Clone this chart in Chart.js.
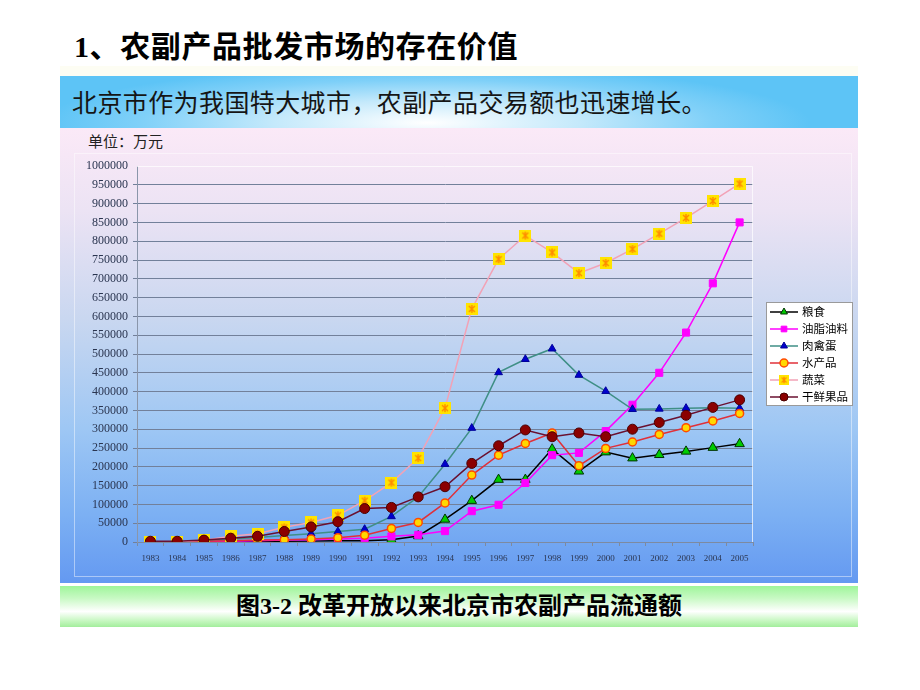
<!DOCTYPE html>
<html>
<head>
<meta charset="utf-8">
<script src="https://cdn.jsdelivr.net/npm/chart.js@4.4.1/dist/chart.umd.min.js"></script>
<style>
    body { margin: 0; background: #fff; width: 920px; height: 690px; position: relative; overflow: hidden; }
    #title {
        position: absolute; left: 74px; top: 22px;
        font: bold 30px 'Liberation Serif', 'Noto Sans CJK SC'; color: #000; white-space: nowrap;
        letter-spacing: 0.6px;
    }
    #strip { position: absolute; left: 60px; top: 66px; width: 798px; height: 10px; background: #fdfdf3; }
    #banner {
        position: absolute; left: 60px; top: 76px; width: 798px; height: 52px;
        background: radial-gradient(ellipse 48% 110% at 46% 90%, #ffffff 0%, #c4e9fb 40%, #7fd0f8 75%, #5dc4f6 100%);
    }
    #banner span {
        position: absolute; left: 12px; top: 10px;
        font: 25px 'Noto Sans CJK SC'; color: #151515; white-space: nowrap; line-height: 30px;
        letter-spacing: 0.4px;
    }
    #panel {
        position: absolute; left: 60px; top: 128px; width: 798px; height: 455px;
        background: linear-gradient(to bottom, #fbe9f7 0%, #ece3f4 18%, #c9d7f0 42%, #9ec7f4 66%, #7cb0f3 85%, #6499f1 100%);
    }
    #frame {
        position: absolute; left: 14px; top: 25px; width: 776px; height: 422px;
        border: 1px solid rgba(255,255,255,0.45);
    }
    #unit {
        position: absolute; left: 28px; top: 2px;
        font: 15px 'Noto Sans CJK SC'; color: #222; white-space: nowrap;
    }
    #chart { position: absolute; left: 0; top: 0; }
    #caption {
        position: absolute; left: 60px; top: 586px; width: 798px; height: 41px;
        background: linear-gradient(to bottom, #9ef59a 0%, #c8f9c4 30%, #ffffff 62%, #c6f7c0 85%, #a3ee9c 100%);
        text-align: center;
        font: bold 24px 'Liberation Serif', 'Noto Sans CJK SC'; color: #000; line-height: 41px;
    }
</style>
</head>
<body>
<div id="title">1、农副产品批发市场的存在价值</div>
<div id="strip"></div>
<div id="banner"><span>北京市作为我国特大城市，农副产品交易额也迅速增长。</span></div>
<div id="panel">
    <div id="frame"></div>
    <div id="unit">单位：万元</div>
    <canvas id="chart" width="798" height="455"></canvas>
</div>
<div id="caption">图3-2 改革开放以来北京市农副产品流通额</div>

<script>
// Years on the x axis
const years = ['1983', '1984', '1985', '1986', '1987', '1988', '1989', '1990', '1991', '1992', '1993', '1994',
    '1995', '1996', '1997', '1998', '1999', '2000', '2001', '2002', '2003', '2004', '2005'];

// Values in 万元
const grain = [0, 0, 1000, 1000, 1500, 2000, 2500, 3000, 3000, 6000, 16000, 60000,
    110000, 166000, 166000, 247000, 188000, 239000, 223000, 232000, 241000, 251000, 261000];
const oil = [0, 0, 1000, 2000, 3000, 5000, 6000, 8000, 10000, 15000, 19000, 29000,
    82000, 99000, 157000, 231000, 237000, 295000, 365000, 450000, 557000, 688000, 850000];
const meat = [0, 0, 3000, 8000, 12000, 17000, 22000, 28000, 34000, 68000, 120000, 207000,
    303000, 451000, 486000, 514000, 444000, 401000, 353000, 354000, 356000, 357000, 356000];
const aquatic = [0, 0, 2000, 3000, 5000, 6000, 8000, 11000, 18000, 36000, 52000, 104000,
    178000, 231000, 262000, 290000, 203000, 249000, 266000, 286000, 304000, 322000, 342000];
const vegetables = [0, 0, 5000, 15000, 22000, 39000, 52000, 71000, 110000, 158000, 223000, 356000,
    620000, 752000, 815000, 770000, 715000, 742000, 779000, 820000, 862000, 907000, 953000];
const fruit = [2000, 2000, 5000, 10000, 15000, 28000, 40000, 54000, 89000, 92000, 120000, 147000,
    209000, 256000, 298000, 280000, 290000, 280000, 300000, 318000, 337000, 358000, 378000];

// Yellow square with an orange cross, like the vegetable marker
function crossMarker() {
    const c = document.createElement('canvas');
    c.width = 12;
    c.height = 12;
    const g = c.getContext('2d');
    g.fillStyle = '#ffe400';
    g.fillRect(0, 0, 12, 12);
    g.strokeStyle = '#ff8a00';
    g.lineWidth = 1.4;
    g.beginPath();
    g.moveTo(3, 3); g.lineTo(9, 9);
    g.moveTo(9, 3); g.lineTo(3, 9);
    g.moveTo(6, 2); g.lineTo(6, 10);
    g.stroke();
    return c;
}
const vegMarker = crossMarker();

// Plot area border plus the hand drawn legend box
const framePlugin = {
    id: 'frame',
    beforeDatasetsDraw(chart) {
        const { ctx, chartArea: a } = chart;
        ctx.save();
        ctx.strokeStyle = 'rgba(255,255,255,0.7)';
        ctx.lineWidth = 1;
        ctx.beginPath();
        ctx.moveTo(a.left, a.top + 0.5);
        ctx.lineTo(a.right - 0.5, a.top + 0.5);
        ctx.lineTo(a.right - 0.5, a.bottom);
        ctx.stroke();
        ctx.restore();
    },
    afterDraw(chart) {
        const ctx = chart.ctx;
        const bx = 706, by = 174, bw = 86, bh = 103;
        ctx.save();
        ctx.fillStyle = '#ffffff';
        ctx.fillRect(bx, by, bw, bh);
        ctx.strokeStyle = '#9a9a9a';
        ctx.lineWidth = 1;
        ctx.strokeRect(bx + 0.5, by + 0.5, bw, bh);
        chart.data.datasets.forEach((ds, i) => {
            const y = by + 10 + i * 17;
            ctx.strokeStyle = ds.borderColor;
            ctx.lineWidth = 1.5;
            ctx.beginPath();
            ctx.moveTo(bx + 4, y);
            ctx.lineTo(bx + 32, y);
            ctx.stroke();
            ctx.fillStyle = ds.pointBackgroundColor;
            ctx.strokeStyle = ds.pointBorderColor;
            ctx.lineWidth = ds.pointBorderWidth;
            if (ds.pointStyle instanceof HTMLCanvasElement) {
                ctx.drawImage(ds.pointStyle, bx + 18 - 5, y - 5, 10, 10);
            } else {
                Chart.helpers.drawPoint(ctx, {
                    pointStyle: ds.pointStyle,
                    radius: Math.min(ds.pointRadius, 4),
                    rotation: 0,
                    borderWidth: ds.pointBorderWidth
                }, bx + 18, y);
            }
            ctx.fillStyle = '#000';
            ctx.font = "11.5px 'Noto Sans CJK SC'";
            ctx.textBaseline = 'middle';
            ctx.fillText(ds.label, bx + 36, y);
        });
        ctx.restore();
    }
};

function series(label, data, line, style, radius, fill, border, bw, order) {
    return {
        label, data, order,
        borderColor: line,
        borderWidth: 1.5,
        pointStyle: style,
        pointRadius: radius,
        pointHoverRadius: radius,
        pointBackgroundColor: fill,
        pointBorderColor: border,
        pointBorderWidth: bw,
        tension: 0
    };
}

new Chart(document.getElementById('chart'), {
    type: 'line',
    data: {
        labels: years,
        datasets: [
            series('粮食', grain, '#000000', 'triangle', 5.5, '#00cc00', '#003300', 1, 6),
            series('油脂油料', oil, '#ff00ff', 'rect', 5, '#ff00ff', '#ff00ff', 1, 5),
            series('肉禽蛋', meat, '#3f8f86', 'triangle', 4.5, '#0000cc', '#000099', 1, 4),
            series('水产品', aquatic, '#e0303a', 'circle', 4, '#ffd800', '#ff4a00', 1.5, 3),
            series('蔬菜', vegetables, '#f2a2b6', vegMarker, 6, '#ffe400', '#ff8a00', 1, 2),
            series('干鲜果品', fruit, '#6a1030', 'circle', 5, '#8b0000', '#4a0000', 1, 1)
        ]
    },
    options: {
        responsive: false,
        animation: false,
        layout: {
            padding: { top: 38, right: 105, bottom: 0, left: 0 }
        },
        scales: {
            x: {
                type: 'category',
                offset: true,
                afterFit(scale) { scale.height = 41; },
                grid: {
                    display: true,
                    offset: true,
                    drawOnChartArea: false,
                    tickLength: 4,
                    color: '#7d8aa0'
                },
                border: { color: '#7d8aa0' },
                ticks: {
                    padding: 7,
                    maxRotation: 0,
                    autoSkip: false,
                    color: '#2a3550',
                    font: { family: "'Liberation Serif'", size: 9 }
                }
            },
            y: {
                min: 0,
                max: 1000000,
                afterFit(scale) { scale.width = 77; },
                grid: {
                    color: ctx => (ctx.tick && ctx.tick.value === 1000000) ? 'rgba(0,0,0,0)' : '#72809a',
                    tickLength: 4,
                    lineWidth: 1
                },
                border: { color: '#8a96aa' },
                ticks: {
                    stepSize: 50000,
                    padding: 5,
                    color: '#2a3550',
                    font: { family: "'Liberation Serif'", size: 12 },
                    callback: v => String(v)
                }
            }
        },
        plugins: {
            legend: { display: false },
            tooltip: { enabled: false }
        }
    },
    plugins: [framePlugin]
});
</script>
</body>
</html>
